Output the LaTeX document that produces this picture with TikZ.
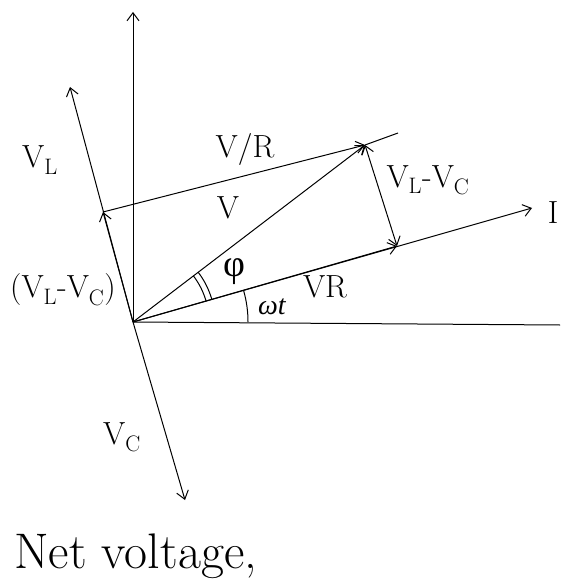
\documentclass[tikz,border=0pt]{standalone}
\usepackage{fontspec}
\newfontfamily\grk{Liberation Serif}
\usetikzlibrary{arrows.meta}
\begin{document}
\begin{tikzpicture}[x=1pt,y=-1pt,
  vec/.style={line width=1pt,-{Straight Barb[length=8pt,width=12pt,line width=1pt]}},
  dvec/.style={line width=1pt,{Straight Barb[length=8pt,width=12pt,line width=1pt]}-{Straight Barb[length=8pt,width=12pt,line width=1pt]}},
  plain/.style={line width=1pt},
  lab/.style={font=\fontsize{32}{36}\selectfont,inner sep=1pt},
  glab/.style={font=\fontsize{38}{42}\selectfont\grk,inner sep=1pt}]
\useasboundingbox (0,0) rectangle (575,585);
\coordinate (O) at (133,322);
\coordinate (Yt) at (133,12);
\coordinate (Xe) at (560,325);
\coordinate (It) at (532,208);
\coordinate (VRt) at (397,246);
\coordinate (Vt) at (365,145);
\coordinate (VLt) at (70,87);
\coordinate (VLC) at (103,212);
\coordinate (Te) at (398,133);
\coordinate (VCt) at (185,500);
% axes
\draw[vec] (O) -- (Yt);
\draw[plain] (O) -- (Xe);
% current
\draw[vec] (O) -- (It);
\draw[vec] (O) -- (VRt);
% voltage
\draw[vec] (O) -- (Vt);
\draw[vec] (O) -- (VLt);
\draw[vec] (O) -- (VLC);
\draw[vec] (O) -- (VCt);
% top line
\draw[vec] (VLC) -- (Vt);
\draw[plain] (Vt) -- (Te);
% VL-VC double arrow
\draw[dvec] (Vt) -- (VRt);
% angle arcs
\draw[plain] ([shift={(0:115)}]O) arc[start angle=0,end angle=-15.9,radius=115];
\draw[plain] ([shift={(-15.9:76)}]O) arc[start angle=-15.9,end angle=-37.3,radius=76];
\draw[plain] ([shift={(-15.9:82)}]O) arc[start angle=-15.9,end angle=-37.3,radius=82];
% labels
\node[lab] (lVL) at (40,160) {V\textsubscript{L}};
\node[lab] (lVRt) at (245,150) {V/R};
\node[lab] (lV) at (228,208) {V};
\node[glab] (lphi) at (234,272) {φ};
\node[glab,font=\fontsize{28}{32}\selectfont\grk\itshape] (lwt) at (272,307) {ωt};
\node[lab] (lVR) at (325,287) {VR};
\node[lab] (lVLVC) at (428,180) {V\textsubscript{L}-V\textsubscript{C}};
\node[lab] (lI) at (553,213) {I};
\node[lab] (lVLVC2) at (63,290) {(V\textsubscript{L}-V\textsubscript{C})};
\node[lab] (lVC) at (122,437) {V\textsubscript{C}};
\node[font=\fontsize{50}{56}\selectfont,anchor=base west,inner sep=0pt] (net) at (14,568) {Net voltage,};
\end{tikzpicture}
\end{document}
